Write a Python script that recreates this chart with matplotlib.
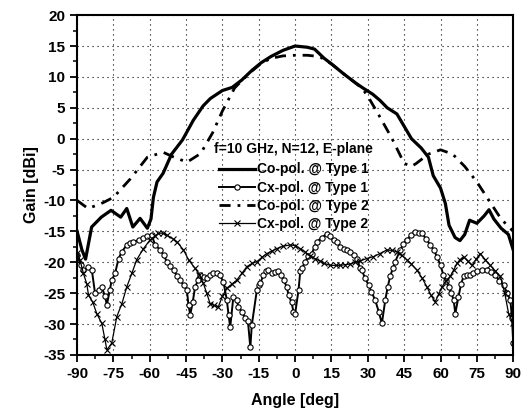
import numpy as np
import matplotlib
matplotlib.use("Agg")
import matplotlib.pyplot as plt
from matplotlib.ticker import MultipleLocator

# --- fonts: Arial-like bold everywhere, plain hyphen for negatives ---
plt.rcParams['font.family'] = ['Liberation Sans', 'DejaVu Sans']
plt.rcParams['font.weight'] = 'bold'
plt.rcParams['axes.unicode_minus'] = False

# =============================================================================
# Data
# =============================================================================
# Co-pol @ Type 1 (solid)
co1_ang = [-90, -88, -86.5, -84, -80, -76, -72, -69.5, -67, -64, -61, -59.5,
           -58.5, -57, -54.5, -51, -46.5, -42, -38, -35, -30, -26, -22, -18, -14,
           -10, -5, 0, 5, 8, 12, 15, 20, 25, 28, 32, 35, 38, 42, 45, 48, 52, 55, 57,
           60, 62, 63.5, 66, 68, 70, 72, 75, 78, 80, 82, 85, 88, 90]
co1_gain = [-15, -18, -19.5, -14.3, -12.7, -11.6, -12.7, -11.3, -14.3, -12.9, -14.5, -13,
            -9.5, -7, -5.6, -2.5, -0.2, 3, 5.3, 6.5, 7.8, 8.3, 9.5, 11, 12.3,
            13.3, 14.3, 15, 14.8, 14.5, 13, 12.1, 10.5, 9, 8.2, 7.2, 6.2, 5, 4, 2, 0, -1.5, -3, -6,
            -8, -10.5, -14, -16, -16.5, -15.5, -13.2, -13.7, -12.5, -11.5, -13, -14.5, -15.5, -18]

# Co-pol @ Type 2 (dash-dot)
co2_ang = [-90, -85.5, -80, -75, -68, -61, -54.5, -50, -44.6, -39, -34, -30, -25, -22,
           -18, -14, -10, -5, 0, 5, 10, 15, 20, 25, 28, 31, 35, 40, 45, 48, 50, 55, 60, 65, 70,
           75, 80, 85, 90]
co2_gain = [-10, -11.3, -10.5, -9.5, -6.5, -3, -2.2, -3, -3.8, -2.4, 1, 4.5, 8.2, 9.4,
            10.9, 12.2, 13, 13.4, 13.5, 13.5, 13.3, 12.1, 10.5, 9, 8, 6.2, 3.5, 0, -4, -4.5, -4, -2.5, -1.8, -2.5, -4.5,
            -7, -10, -13, -15]

# Cx-pol @ Type 1 (circles)
cx1_ang = [-90, -88.5, -87.4, -85.5, -83.9, -82.6, -81, -79.8, -78.5, -77.7, -76.5, -75.7,
           -74.3, -72.9, -71.5, -69.5, -68, -66.8, -64.5, -62.6, -61, -59.2, -57.8, -55.7,
           -54.3, -53, -51.5, -50.2, -48.8, -47.5, -46, -44.7, -44, -43.3, -42.3, -41.3, -40,
           -39.2, -37.5, -36.5, -35, -33.7, -32.3, -31, -29.6, -28.2, -27.5, -26.8, -25.5,
           -24.1, -23.4, -22, -20.6, -19.5, -18.5, -17.9, -15.8, -15.1, -14.4, -13.1, -12,
           -11, -9.6, -8.2, -6.9, -5.8, -4.7, -3.5, -2.7, -1.5, -0.7, 0, 1.4, 2.1, 2.8, 4.1,
           5.5, 6.9, 8, 9, 11, 13.1, 14.5, 15.9, 17.2, 18.6, 20, 21.4, 22.7, 24.1, 25.5, 26.8,
           27.5, 28.8, 30.3, 31.5, 33, 34.5, 35.8, 37.2, 38.2, 39.2, 40.3, 41.3, 43.4, 44.7,
           46.1, 47.8, 49.6, 51, 52.3, 54, 55.8, 57.2, 58.5, 60, 61.2, 62.3, 63.3, 64.5, 65.4,
           66.1, 67.4, 68.5, 69.5, 70.8, 72.3, 73.5, 75, 77, 79.2, 81, 82.6, 84.3, 86, 87.5,
           88.8, 89.5, 90]
cx1_gain = [-18.8, -20.5, -21.3, -20.8, -21.3, -25.0, -24.5, -24.0, -25.5, -26.9, -24.5, -22.9,
            -21.8, -19.4, -18.3, -17.2, -16.9, -16.7, -16.4, -16.1, -15.8, -15.6, -17.2, -18.0,
            -18.8, -19.9, -20.6, -21.3, -22.2, -22.9, -23.7, -24.5, -27.0, -28.5, -26.5, -24.0, -22.8,
            -22.1, -22.4, -22.6, -22.0, -21.8, -21.8, -22.1, -23.2, -26.1, -28.5, -30.5, -25.6,
            -26.1, -27.2, -28.0, -29.1, -29.5, -33.8, -30.2, -24.5, -23.7, -23.4, -22.1, -21.5,
            -21.3, -21.8, -21.6, -21.5, -22.1, -22.9, -24.0, -25.3, -26.5, -28.0, -28.3, -24.5, -21.5, -21.0, -19.9,
            -19.0, -18.6, -17.5, -16.7, -16.0, -15.4, -15.8, -16.4, -16.8, -17.5, -17.8, -18.0, -18.3, -18.8, -19.4, -21.0,
            -21.3, -22.5, -23.7, -24.8, -26.1, -28.0, -29.9, -26.1, -24.0, -22.3, -21.0, -19.9, -18.0, -17.0,
            -16.4, -15.6, -15.1, -15.2, -15.3, -16.2, -17.2, -18.0, -19.1, -20.5, -22.1, -23.0, -24.0, -25.0, -26.1,
            -28.3, -25.6, -23.5, -22.3, -22.0, -22.1, -21.7, -21.5, -21.2, -21.3, -21.6, -22.1, -23.0, -23.7, -25.0,
            -26.1, -29.0, -33]

# Cx-pol @ Type 2 (crosses)
cx2_ang = [-90, -88.8, -87.4, -86, -85.3, -83.5, -81.9, -79.8, -78.5, -77.7, -75.7, -73.6, -71.5,
           -69.5, -67.4, -65.4, -62.6, -59.9, -58, -56.4, -54.5, -53, -50.5, -48.8, -46.1, -44,
           -41.3, -39.5, -37.9, -36.5, -35.1, -33.5, -31.7, -30, -28.2, -26, -24.1, -22, -19.9,
           -17.8, -15.8, -13.7, -11.7, -9.6, -7.6, -5, -2, 0, 2.1, 4, 6.2, 8, 10.3, 12, 14.5, 17,
           18.6, 20.5, 22.7, 24.8, 26.8, 29.5, 32.3, 35, 37.9, 40, 42, 44, 46.1, 48, 50.3, 52.3,
           54.4, 56, 57.8, 59.2, 60.6, 62.3, 64, 65.5, 66.8, 68, 69.5, 71.2, 73, 74.7, 76.4, 78.5,
           80.5, 82.6, 84.7, 86.5, 88.1, 90]
cx2_gain = [-18.5, -19.6, -21.8, -23.5, -25.3, -26.5, -28.3, -29.9, -32.5, -34.2, -33.1, -28.8, -26.7,
            -24.0, -21.8, -19.6, -17.8, -16.4, -15.8, -15.3, -15.3, -15.6, -16.2, -16.7, -18.0, -19.6,
            -21.0, -22.0, -23.4, -25.0, -26.7, -27.0, -27.2, -25.5, -24.2, -23.5, -22.9, -21.8, -20.7,
            -20.2, -19.9, -19.2, -18.6, -18.2, -17.8, -17.4, -17.2, -17.3, -17.8, -18.3, -19.0, -19.4, -19.8, -20.2, -20.5, -20.5,
            -20.5, -20.4, -20.3, -20.0, -19.8, -19.4, -19.1, -18.6, -18.0, -18.1, -18.3, -18.9, -19.6, -20.3, -21.3, -22.5,
            -24.0, -25.3, -26.4, -25.2, -24.0, -23.0, -22.3, -21.2, -20.2, -19.6, -19.1, -19.8, -20.5, -19.5, -18.6, -19.6,
            -20.5, -21.4, -22.3, -25.0, -28.3, -29.9]

legend_title = 'f=10 GHz, N=12, E-plane'
series_labels = ['Co-pol. @ Type 1', 'Cx-pol. @ Type 1', 'Co-pol. @ Type 2', 'Cx-pol. @ Type 2']

# =============================================================================
# Plot
# =============================================================================
fig = plt.figure(figsize=(5.28, 4.2), dpi=100)
ax = fig.add_axes([0.146, 0.155, 0.826, 0.809])

ax.plot(co1_ang, co1_gain, '-', color='black', linewidth=2.3, label=series_labels[0])
ax.plot(cx1_ang, cx1_gain, '-', color='black', linewidth=1.4, marker='o', markersize=3.8,
        markerfacecolor='white', markeredgecolor='black', markeredgewidth=0.8,
        label=series_labels[1])
ax.plot(co2_ang, co2_gain, color='black', linewidth=2.0, dashes=(4, 2.5, 1, 2.5),
        label=series_labels[2])
ax.plot(cx2_ang, cx2_gain, '-', color='black', linewidth=0.9, marker='x', markersize=4,
        markeredgewidth=0.8, label=series_labels[3])

ax.set_xlim(-90, 90)
ax.set_ylim(-35, 20)
ax.xaxis.set_major_locator(MultipleLocator(15))
ax.xaxis.set_minor_locator(MultipleLocator(7.5))
ax.yaxis.set_major_locator(MultipleLocator(5))
ax.yaxis.set_minor_locator(MultipleLocator(2.5))
ax.tick_params(which='major', direction='out', length=5, width=1.3, labelsize=11)
ax.tick_params(which='minor', direction='out', length=3, width=1.1)
for lbl in ax.get_xticklabels() + ax.get_yticklabels():
    lbl.set_fontweight('bold')
for sp in ax.spines.values():
    sp.set_linewidth(1.5)

ax.grid(True, which='major', color='black', linestyle=(0, (1, 3.5)), linewidth=0.8)

ax.set_xlabel('Angle [deg]', fontsize=11.5, fontweight='bold', labelpad=9)
ax.set_ylabel('Gain [dBi]', fontsize=11.5, fontweight='bold', labelpad=3)

leg = ax.legend(title=legend_title, loc='upper left', bbox_to_anchor=(0.315, 0.628),
                frameon=False, fontsize=10, title_fontsize=10, handlelength=2.6,
                handletextpad=0.2, labelspacing=0.3, borderpad=0.0, borderaxespad=0.0)
leg.get_title().set_fontweight('bold')
leg._legend_box.sep = 5
for t in leg.get_texts():
    t.set_fontweight('bold')

fig.savefig('out.png', dpi=100)
